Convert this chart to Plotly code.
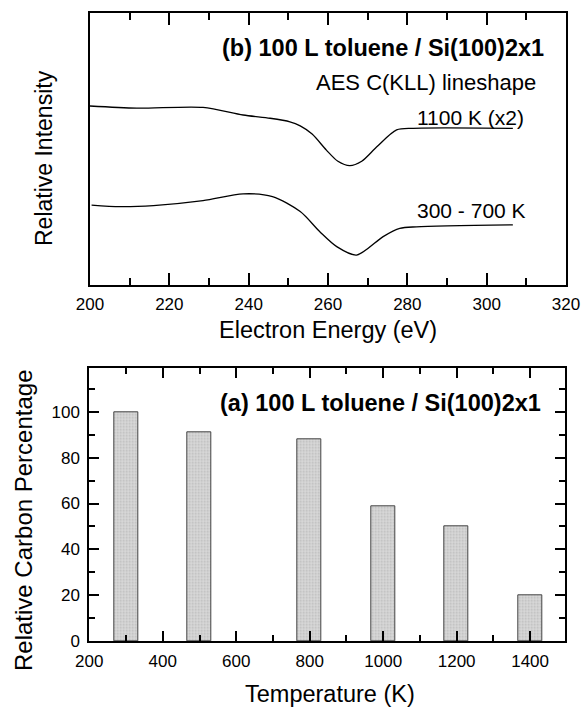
import plotly.graph_objects as go

# ---- Data: panel (b) AES C(KLL) lineshapes (arbitrary intensity units) ----
energy_1100 = [200, 211.8, 228.5, 238.6, 245.4, 250.4, 253, 256, 259.6, 262.5, 265.5, 268.5, 272.3, 277.3, 281.5, 306.6]
intensity_1100 = [65.8, 65.0, 65.3, 62.5, 61.3, 60.0, 58.5, 55.5, 49.6, 45.5, 43.9, 45.5, 50.8, 57.0, 57.6, 57.6]

energy_300_700 = [200.4, 207.6, 216, 228.5, 238.6, 246, 253, 258, 262.2, 267.2, 273.9, 278.1, 282.3, 306.6]
intensity_300_700 = [29.4, 28.8, 29.2, 31.0, 33.5, 32.5, 27.0, 19.5, 14.1, 11.0, 17.8, 20.8, 21.4, 22.1]

# ---- Data: panel (a) relative carbon percentage ----
temperatures = [300, 500, 800, 1000, 1200, 1400]
carbon_pct = [100, 91, 88, 59, 50, 20]

W, H = 583, 707
FONT = "Liberation Sans, Arial, Helvetica, sans-serif"


def px(x):
    return x / W


def py(y):
    return 1 - y / H


fig = go.Figure()

fig.add_trace(go.Scatter(x=energy_1100, y=intensity_1100, mode="lines",
                         line=dict(color="black", width=1.3, shape="spline", smoothing=0.8),
                         xaxis="x", yaxis="y", showlegend=False))
fig.add_trace(go.Scatter(x=energy_300_700, y=intensity_300_700, mode="lines",
                         line=dict(color="black", width=1.3, shape="spline", smoothing=0.8),
                         xaxis="x", yaxis="y", showlegend=False))

fig.add_trace(go.Bar(x=temperatures, y=carbon_pct, width=65,
                     marker=dict(color="#d9d9d9",
                                 line=dict(color="#444444", width=1),
                                 pattern=dict(shape=".", fgcolor="#9a9a9a", size=3, solidity=0.3)),
                     xaxis="x2", yaxis="y2", showlegend=False))

axis_common = dict(showline=True, linewidth=2, linecolor="black", showgrid=False,
                   zeroline=False, tickcolor="black", tickwidth=1.5, automargin=False,
                   tickfont=dict(family=FONT, size=17, color="black"))

fig.update_layout(
    width=W, height=H,
    margin=dict(l=0, r=0, t=0, b=0),
    paper_bgcolor="white", plot_bgcolor="white",
    font=dict(family=FONT, color="black"),
    bargap=0,
    xaxis=dict(domain=[px(90), px(566)], anchor="y", range=[200, 320],
               tick0=200, dtick=20, ticks="inside", ticklen=12, mirror="ticks",
               ticklabelstandoff=3,
               minor=dict(dtick=10, ticks="inside", ticklen=7, tickwidth=1.5, tickcolor="black"),
               **axis_common),
    yaxis=dict(domain=[py(285), py(13)], anchor="x", range=[0, 100],
               showticklabels=False, ticks="", mirror=True,
               **axis_common),
    xaxis2=dict(domain=[px(89.3), px(565)], anchor="y2", range=[200, 1495],
                tick0=200, dtick=200, ticks="inside", ticklen=10, mirror="ticks",
                ticklabelstandoff=4,
                minor=dict(dtick=100, ticks="inside", ticklen=6, tickwidth=1.5, tickcolor="black"),
                **axis_common),
    yaxis2=dict(domain=[py(641), py(368.3)], anchor="x2", range=[0, 119],
                tick0=0, dtick=20, ticks="inside", ticklen=10, mirror="ticks",
                ticklabelstandoff=4,
                minor=dict(dtick=10, ticks="inside", ticklen=6, tickwidth=1.5, tickcolor="black"),
                **axis_common),
)


def ann(text, x, y, size, xanchor="center", bold=False, angle=0):
    if bold:
        text = "<b>" + text + "</b>"
    fig.add_annotation(text=text, x=px(x), y=py(y), xref="paper", yref="paper",
                       xanchor=xanchor, yanchor="middle", showarrow=False,
                       textangle=angle, font=dict(family=FONT, size=size, color="black"))


ann("(b) 100 L toluene / Si(100)2x1", 546, 48, 23.5, xanchor="right", bold=True)
ann("AES C(KLL) lineshape", 538, 82, 22, xanchor="right")
ann("1100 K (x2)", 415, 118, 21, xanchor="left")
ann("300 - 700 K", 415, 210, 21, xanchor="left")
ann("(a) 100 L toluene / Si(100)2x1", 543, 403, 23.5, xanchor="right", bold=True)
ann("Electron Energy (eV)", 328, 330, 23.5)
ann("Temperature (K)", 330, 694, 23.5)
ann("Relative Intensity", 44, 158, 23, angle=-90)
ann("Relative Carbon Percentage", 23, 520, 24, angle=-90)

fig.write_html(
    "out.html",
    config={"displayModeBar": False},
    post_script="document.body.style.margin='0';document.body.style.padding='0';"
                "document.documentElement.style.overflow='hidden';",
)
